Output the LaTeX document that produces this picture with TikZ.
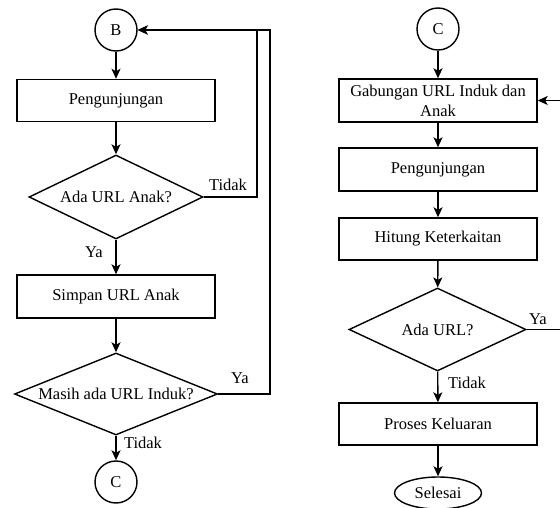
\documentclass[tikz,border=0pt]{standalone}
\usepackage{fontspec}
\setmainfont{Liberation Serif}
\usetikzlibrary{shapes.geometric,arrows.meta}
\begin{document}
\begin{tikzpicture}[x=1pt,y=-1pt,
  font=\rmfamily\fontsize{16.5}{21}\selectfont,
  line width=1.4pt,
  arr/.style={-{Stealth[length=10pt,width=9pt,inset=2.5pt]}},
  procbox/.style={draw,rectangle,minimum width=198,minimum height=42,inner sep=2pt,align=center},
  conn/.style={draw,circle,minimum size=42,inner sep=0pt},
  decide/.style={draw,diamond,inner sep=0pt},
  term/.style={draw,ellipse,minimum width=87,minimum height=32,inner sep=0pt},
  lbl/.style={inner sep=0pt}]
\useasboundingbox (0,0) rectangle (560,508);
\clip (0,0) rectangle (560,508);

% left column: crawling of child URLs
\node[conn] (b) at (116,30) {B};
\node[procbox] (p1) at (116,100.5) {Pengunjungan};
\node[decide,minimum width=174,minimum height=84] (d1) at (116,197) {\makebox[0pt]{Ada URL Anak?}};
\node[procbox,minimum height=43] (s1) at (116,296.5) {Simpan URL Anak};
\node[decide,minimum width=203,minimum height=82] (d2) at (116,394) {\makebox[0pt]{Masih ada URL Induk?}};
\node[conn] (c1) at (116,482) {C};

% right column: merging and output
\node[conn] (c2) at (438,29) {C};
\node[procbox,minimum height=43] (g) at (438,100.5) {Gabungan URL Induk dan\\[-1pt]Anak};
\node[procbox,minimum height=43] (p2) at (438,169.5) {Pengunjungan};
\node[procbox] (h) at (438,239) {Hitung Keterkaitan};
\node[decide,minimum width=177,minimum height=83] (d3) at (437.5,329.5) {\makebox[0pt]{Ada URL?}};
\node[procbox] (pk) at (438,424) {Proses Keluaran};
\node[term] (sel) at (438,493) {Selesai};

% loop-back routing points
\coordinate (k1) at (257,30);
\coordinate (k2) at (270,30);
\coordinate (k3) at (572,30);

% connectors, left column
\draw[arr] (b) -- (p1);
\draw[arr] (p1) -- (d1);
\draw[arr] (d1) -- (s1);
\draw[arr] (s1) -- (d2);
\draw[arr] (d2) -- (c1);
\draw[arr] (d1.east) -| (k1) -- (b.east);
\draw[arr] (d2.east) -| (k2) -- (b.east);

% connectors, right column
\draw[arr] (c2) -- (g);
\draw[arr] (g) -- (p2);
\draw[arr] (p2) -- (h);
\draw[arr] (h) -- (d3);
\draw[arr] (d3) -- (pk);
\draw[arr] (pk) -- (sel);
\draw[arr] (d3.east) -| (k3) |- (g.east);

% branch labels
\node[lbl] (t1) at (228,185) {Tidak};
\node[lbl] (y1) at (94,252) {Ya};
\node[lbl] (y2) at (240,378) {Ya};
\node[lbl] (t2) at (143,443) {Tidak};
\node[lbl] (y3) at (538,319) {Ya};
\node[lbl] (t3) at (467,383) {Tidak};
\end{tikzpicture}
\end{document}
